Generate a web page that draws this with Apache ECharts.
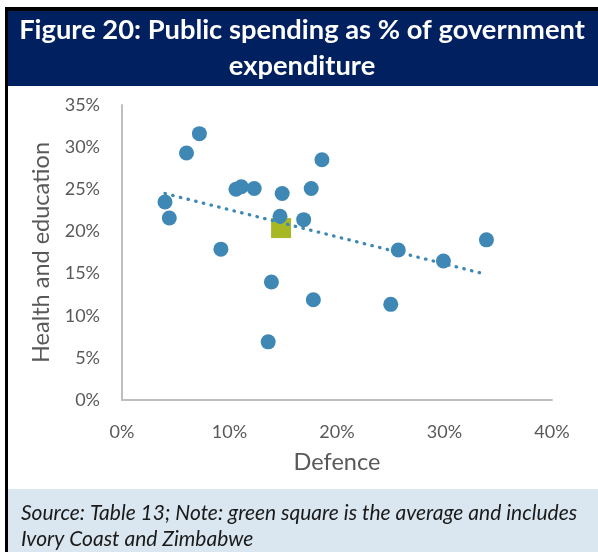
<!DOCTYPE html>
<html>
<head>
<meta charset="utf-8">
<script src="https://cdn.jsdelivr.net/npm/echarts@6/dist/echarts.min.js"></script>
<style>
  html, body { margin: 0; padding: 0; background: #ffffff; }
  #chart { width: 598px; height: 552px; }
</style>
</head>
<body>
<div id="chart"></div>
<script>
// Country values, % of government expenditure
const defence   = [4.0, 4.4, 6.0, 7.2, 9.2, 10.6, 11.1, 12.3, 13.9, 13.6, 14.7, 14.9, 16.9, 17.6, 17.8, 18.6, 25.0, 25.7, 29.9, 33.9];
const healthEdu = [23.5, 21.6, 29.3, 31.6, 17.9, 25.0, 25.3, 25.1, 14.0, 6.9, 21.8, 24.5, 21.4, 25.1, 11.9, 28.5, 11.35, 17.8, 16.5, 19.0];

// Average across all countries (green square)
const average = [14.8, 20.4];

// Linear trend line end points
const trendX = [4.0, 33.9];
const trendY = [24.5, 14.9];

// Axis ranges and tick steps
const xTicks = { min: 0, max: 40, interval: 10 };
const yTicks = { min: 0, max: 35, interval: 5 };

const points = defence.map((d, i) => [d, healthEdu[i]]);
const trend = trendX.map((x, i) => [x, trendY[i]]);

const BLUE = '#3F88B5';
const GREEN = '#A8B825';
const GREY_TEXT = '#595959';
const FONT = 'Lato';

const chart = echarts.init(document.getElementById('chart'), null, { renderer: 'canvas' });

chart.setOption({
  backgroundColor: '#ffffff',
  animation: false,
  graphic: [
    // outer frame
    { type: 'rect', shape: { x: 5, y: 7, width: 593, height: 4 }, style: { fill: '#000000' }, z: 0 },
    { type: 'rect', shape: { x: 5, y: 7, width: 3, height: 545 }, style: { fill: '#000000' }, z: 0 },
    // title banner
    { type: 'rect', shape: { x: 8, y: 11, width: 590, height: 75 }, style: { fill: '#002060' }, z: 0 },
    {
      type: 'text', x: 302, y: 12, z: 1,
      style: {
        text: 'Figure 20: Public spending as % of government\nexpenditure',
        fill: '#ffffff', font: 'bold 27.3px ' + FONT, lineHeight: 36,
        align: 'center', verticalAlign: 'top'
      }
    },
    // note box
    { type: 'rect', shape: { x: 8, y: 489, width: 590, height: 63 }, style: { fill: '#DAE7F0' }, z: 0 },
    {
      type: 'text', x: 21, y: 500, z: 1,
      style: {
        text: 'Source: Table 13; Note: green square is the average and includes\nIvory Coast and Zimbabwe',
        fill: '#1a1a1a', font: 'italic 21px ' + FONT, lineHeight: 26,
        verticalAlign: 'top'
      }
    }
  ],
  grid: { left: 122, right: 46, top: 105, bottom: 152 },
  xAxis: {
    type: 'value',
    min: xTicks.min, max: xTicks.max, interval: xTicks.interval,
    name: 'Defence',
    nameLocation: 'middle',
    nameGap: 50,
    nameTextStyle: { color: GREY_TEXT, fontFamily: FONT, fontSize: 23.5 },
    axisLine: { show: true, lineStyle: { color: '#BFBFBF', width: 2 } },
    axisTick: { show: false },
    splitLine: { show: false },
    axisLabel: { color: GREY_TEXT, fontFamily: FONT, fontSize: 18, margin: 23, formatter: '{value}%' }
  },
  yAxis: {
    type: 'value',
    min: yTicks.min, max: yTicks.max, interval: yTicks.interval,
    name: 'Health and education',
    nameLocation: 'middle',
    nameRotate: 90,
    nameGap: 61,
    nameTextStyle: { color: GREY_TEXT, fontFamily: FONT, fontSize: 23.5 },
    axisLine: { show: true, lineStyle: { color: '#BFBFBF', width: 2 } },
    axisTick: { show: false },
    splitLine: { show: false },
    axisLabel: { color: GREY_TEXT, fontFamily: FONT, fontSize: 18, margin: 22, formatter: '{value}%' }
  },
  series: [
    {
      name: 'Average',
      type: 'scatter',
      data: [average],
      symbol: 'rect',
      symbolSize: 20,
      itemStyle: { color: GREEN, opacity: 1 },
      z: 2
    },
    {
      name: 'Countries',
      type: 'scatter',
      data: points,
      symbol: 'circle',
      symbolSize: 15,
      itemStyle: { color: BLUE, opacity: 1 },
      z: 3
    },
    {
      name: 'Trend',
      type: 'line',
      data: trend,
      symbol: 'none',
      silent: true,
      lineStyle: { color: BLUE, width: 3.3, type: [0.5, 7.4], cap: 'round' },
      z: 4
    }
  ]
});
</script>
</body>
</html>
